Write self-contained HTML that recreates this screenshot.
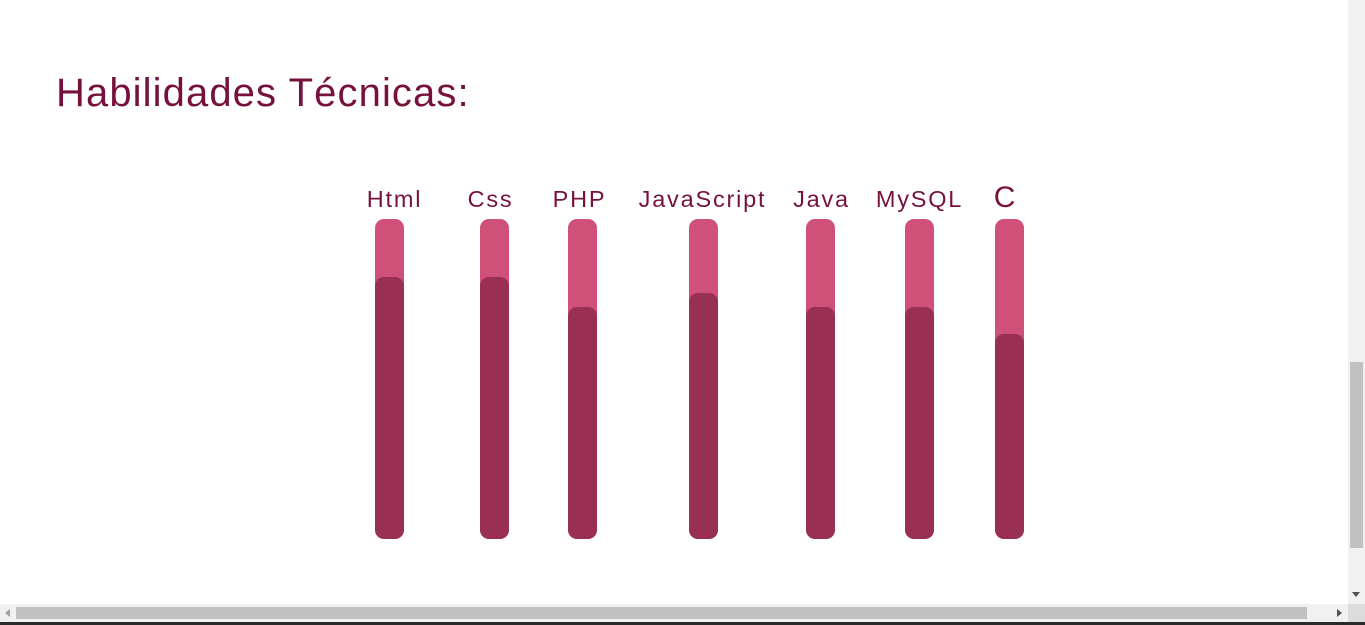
<!DOCTYPE html>
<html><head><meta charset="utf-8"><style>
body{margin:0;width:1365px;height:625px;background:#fff;position:relative;overflow:hidden;font-family:"Liberation Sans",sans-serif}
#title{position:absolute;left:56px;top:71px;font-size:40px;color:#76113e;margin:0;font-weight:normal;letter-spacing:1.1px}
.lbl{position:absolute;top:186px;font-size:23.5px;color:#76113e;transform:translateX(-50%);white-space:nowrap;letter-spacing:1.8px}
.bar{position:absolute;top:219px;width:29px;height:320px;background:#cf5179;border-radius:9px;overflow:hidden}
.fill{position:absolute;left:0;bottom:0;width:100%;background:#992f53;border-radius:9px}
</style></head><body>
<h1 id="title">Habilidades Técnicas:</h1>
<div id="chart"></div>
<div style="position:absolute;left:1348px;top:0;width:17px;height:604px;background:#f1f1f1">
<div style="position:absolute;left:2px;top:362px;width:13px;height:186px;background:#c1c1c1"></div>
<div style="position:absolute;left:4px;top:592px;width:0;height:0;border-left:4px solid transparent;border-right:4px solid transparent;border-top:5px solid #505050"></div>
</div>
<div style="position:absolute;left:0;top:604px;width:1348px;height:18px;background:#f1f1f1">
<div style="position:absolute;left:16px;top:3px;width:1291px;height:12px;background:#c1c1c1"></div>
<div style="position:absolute;left:5px;top:5px;border-top:4px solid transparent;border-bottom:4px solid transparent;border-right:5px solid #a0a0a0"></div>
<div style="position:absolute;left:1337px;top:5px;border-top:4px solid transparent;border-bottom:4px solid transparent;border-left:5px solid #505050"></div>
</div>
<div style="position:absolute;left:1348px;top:604px;width:17px;height:18px;background:#dcdcdc"></div>
<div style="position:absolute;left:0;top:622px;width:1365px;height:3px;background:#2b2b2b"></div>
<script>
const skills=["Html","Css","PHP","JavaScript","Java","MySQL","C"];
const levels=[82,82,72.5,77,72.5,72.5,64];
const barX=[375,480,568,689,806,905,995];
const labelShift=[4,-5,-4,-2,0,-1,-5];
const chart=document.getElementById('chart');
skills.forEach((s,i)=>{
  const l=document.createElement('div');
  l.className='lbl';
  
  
  l.textContent=s;
  l.style.left=(barX[i]+14.5+labelShift[i]+1)+'px';
  if(s==="C"){l.style.fontSize="30px";l.style.top="181px";}
  chart.appendChild(l);
  const b=document.createElement('div');
  b.className='bar';
  
  
  b.style.left=barX[i]+'px';
  const f=document.createElement('div');
  f.className='fill';
  
  
  f.style.height=(levels[i]/100*320)+'px';
  b.appendChild(f);
  chart.appendChild(b);
});
</script>
</body></html>
